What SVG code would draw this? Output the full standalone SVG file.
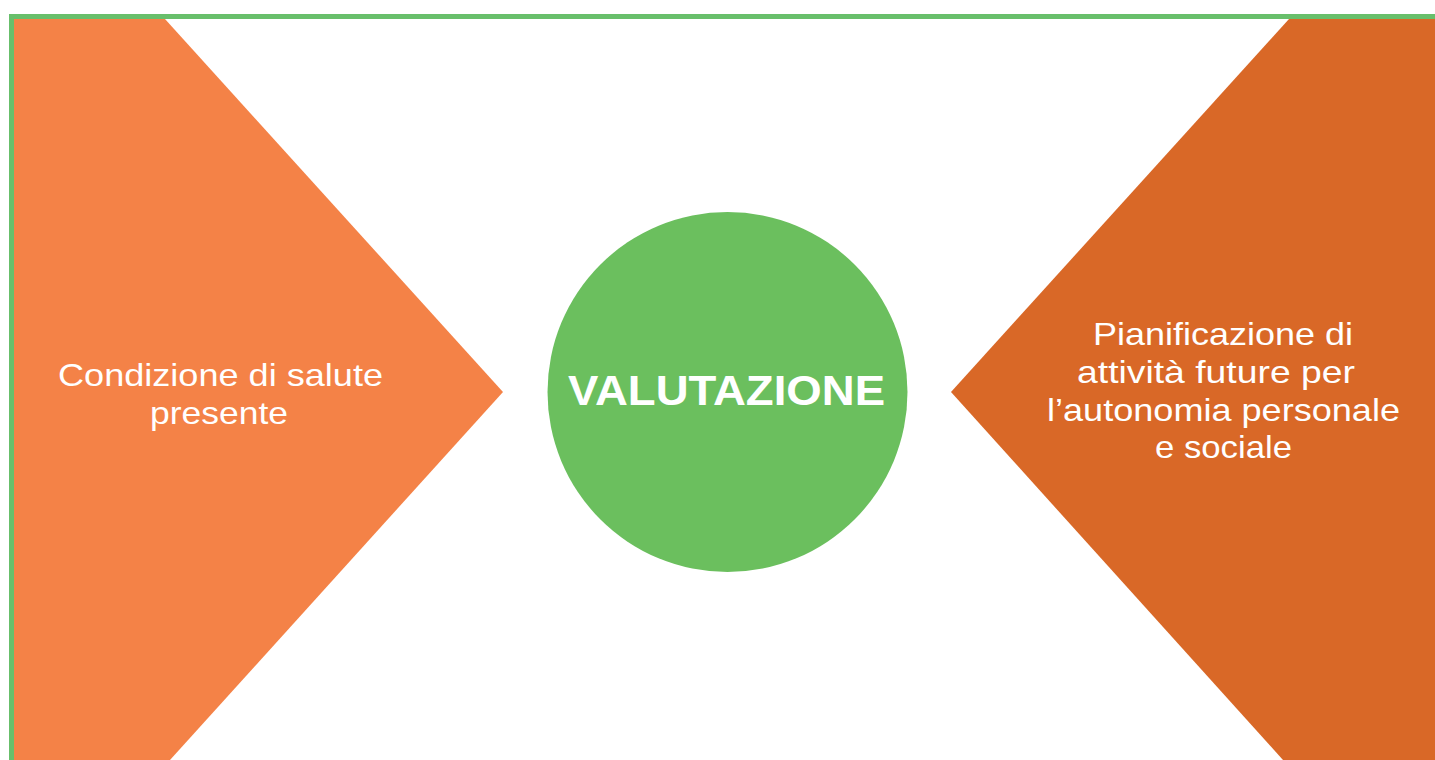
<svg xmlns="http://www.w3.org/2000/svg" width="1435" height="760" viewBox="0 0 1435 760">
  <style>
    .label { fill: #ffffff; text-anchor: middle; font-family: "Liberation Sans", Arial, sans-serif; }
    .side { font-size: 32px; }
    .core { font-size: 42px; font-weight: 700; }
  </style>
  <rect x="0" y="0" width="1435" height="760" fill="#ffffff"/>

  <!-- frame lines along top and left edges -->
  <g id="frame" fill="#68BF6B">
    <rect x="9" y="14" width="1426" height="5"/>
    <rect x="9" y="14" width="5" height="746"/>
  </g>

  <g id="node-condizione">
    <polygon points="14,19 165,19 503,392 170,760 14,760" fill="#F48247"/>
    <text class="label side" x="220.5" y="386" textLength="325" lengthAdjust="spacingAndGlyphs">Condizione di salute</text>
    <text class="label side" x="219" y="423.5" textLength="138" lengthAdjust="spacingAndGlyphs">presente</text>
  </g>

  <g id="node-valutazione">
    <circle cx="727.5" cy="392" r="180" fill="#6BBF5E"/>
    <text class="label core" x="726.5" y="405" textLength="317" lengthAdjust="spacingAndGlyphs">VALUTAZIONE</text>
  </g>

  <g id="node-pianificazione">
    <polygon points="1289,19 1435,19 1435,760 1283,760 951,392" fill="#D96827"/>
    <text class="label side" x="1223" y="345" textLength="260" lengthAdjust="spacingAndGlyphs">Pianificazione di</text>
    <text class="label side" x="1216" y="383" textLength="278" lengthAdjust="spacingAndGlyphs">attività future per</text>
    <text class="label side" x="1223.5" y="420.5" textLength="353" lengthAdjust="spacingAndGlyphs">l’autonomia personale</text>
    <text class="label side" x="1223.5" y="458" textLength="137" lengthAdjust="spacingAndGlyphs">e sociale</text>
  </g>

  <g id="connectors"/>
</svg>
